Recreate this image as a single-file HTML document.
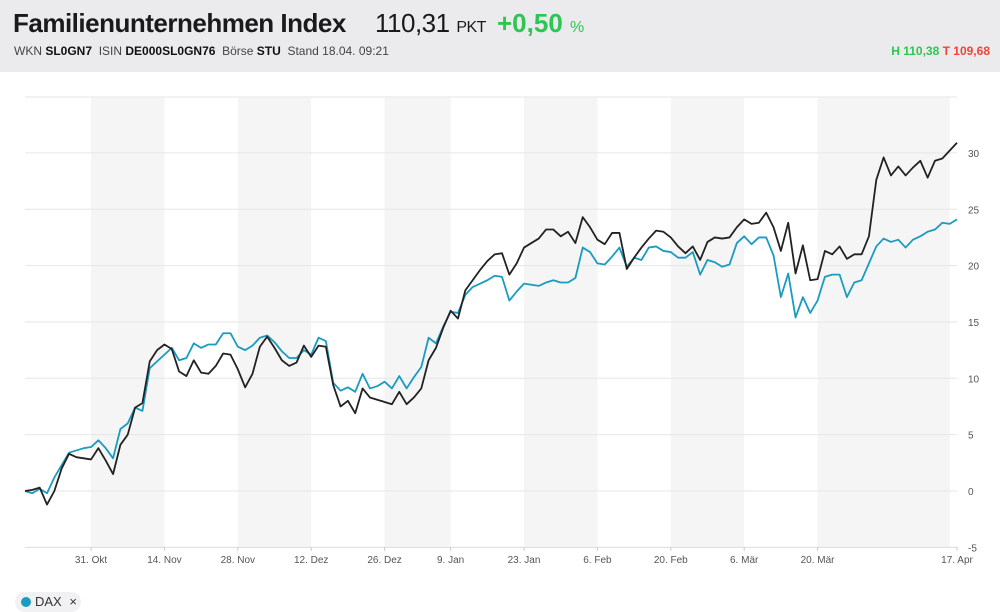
<!DOCTYPE html>
<html><head><meta charset="utf-8"><style>
body{margin:0;width:1000px;height:612px;overflow:hidden;background:#fff;font-family:"Liberation Sans",sans-serif;}
#hdr{position:absolute;left:0;top:0;width:1000px;height:72px;background:#ebebed;}
.t{position:absolute;white-space:nowrap;}
</style></head><body>
<div id="hdr">
  <div class="t" style="left:13px;top:8px;font-size:26px;font-weight:bold;color:#1a1a1a;letter-spacing:-0.5px">Familienunternehmen Index</div>
  <div class="t" style="left:375px;top:8px;font-size:26px;color:#1a1a1a;letter-spacing:-0.5px">110,31 <span style="font-size:16px">PKT</span></div>
  <div class="t" style="left:497px;top:8px;font-size:26px;font-weight:bold;color:#2ec552">+0,50 <span style="font-size:16px;font-weight:normal">%</span></div>
  <div class="t" style="left:14px;top:44px;font-size:12px;color:#444">WKN <b style="color:#111">SL0GN7</b>&nbsp; ISIN <b style="color:#111">DE000SL0GN76</b>&nbsp; Börse <b style="color:#111">STU</b>&nbsp; Stand 18.04. 09:21</div>
  <div class="t" style="right:10px;top:44px;font-size:12px;font-weight:bold"><span style="color:#2ec552">H 110,38</span> <span style="color:#f04438">T 109,68</span></div>
</div>
<svg id="chart" width="1000" height="612" style="position:absolute;left:0;top:0"></svg>
<div class="t" style="left:15px;top:592px;height:20px;width:66px;border-radius:10px;background:#f1f1f3;font-size:13px;color:#333;line-height:20px"><span style="display:inline-block;width:10px;height:10px;border-radius:5px;background:#1a9bc0;margin:0 4px 0 6px;vertical-align:-1px"></span>DAX <span style="margin-left:4px">×</span></div>
<script>
const dateLabels=["31. Okt","14. Nov","28. Nov","12. Dez","26. Dez","9. Jan","23. Jan","6. Feb","20. Feb","6. Mär","20. Mär","17. Apr"];
const dateIdx=[9,19,29,39,49,58,68,78,88,98,108,127];
const yTicks=[-5,0,5,10,15,20,25,30];
const indexSeries=[0,0.1,0.3,-1.2,0,2.0,3.3,3.0,2.9,2.8,3.8,2.7,1.5,4.1,5.0,7.4,7.8,11.5,12.5,13.0,12.6,10.6,10.2,11.6,10.5,10.4,11.1,12.2,12.1,10.8,9.2,10.4,12.8,13.7,12.7,11.6,11.1,11.4,12.9,11.9,12.9,12.8,9.4,7.5,8.0,6.9,9.1,8.3,8.1,7.9,7.7,8.8,7.7,8.3,9.1,11.6,12.7,14.5,16.0,15.3,17.8,18.7,19.6,20.4,21.0,21.1,19.2,20.2,21.6,22.0,22.4,23.2,23.2,22.6,23.0,22.0,24.3,23.4,22.3,21.9,22.9,22.9,19.7,20.7,21.6,22.4,23.1,23.0,22.5,21.7,21.1,21.7,20.5,22.1,22.5,22.4,22.5,23.4,24.1,23.7,23.8,24.7,23.4,21.3,23.8,19.3,21.8,18.7,18.8,21.3,21.0,21.7,20.6,21.0,21.0,22.6,27.6,29.6,28.0,28.8,28.0,28.7,29.3,27.8,29.3,29.5,30.2,30.9];
const daxSeries=[0,-0.2,0.2,-0.2,1.2,2.3,3.4,3.6,3.8,3.9,4.5,3.8,2.9,5.5,6.0,7.4,7.1,10.9,11.5,12.1,12.7,11.6,11.8,13.1,12.7,13.0,13.0,14.0,14.0,12.8,12.5,12.9,13.6,13.8,13.2,12.4,11.8,11.8,12.5,12.1,13.6,13.3,9.6,8.9,9.2,8.8,10.4,9.1,9.3,9.7,9.1,10.2,9.1,10.1,11.0,13.6,13.1,14.6,15.9,15.8,17.4,18.1,18.4,18.7,19.1,19.0,16.9,17.7,18.4,18.3,18.2,18.5,18.7,18.5,18.5,18.9,21.6,21.2,20.2,20.1,20.8,21.6,19.9,20.7,20.5,21.6,21.7,21.3,21.2,20.7,20.7,21.2,19.2,20.5,20.3,19.9,20.1,22.0,22.6,21.9,22.5,22.5,20.9,17.2,19.3,15.4,17.2,15.8,16.9,19.0,19.2,19.2,17.2,18.5,18.7,20.2,21.7,22.4,22.1,22.3,21.6,22.3,22.6,23.0,23.2,23.8,23.7,24.1];
const bandStart=[9,29,49,68,88,108];
const bandEnd=[19,39,58,78,98,126];
const NS="http://www.w3.org/2000/svg";
const svg=document.getElementById('chart');
const X0=25,X1=957,N=indexSeries.length;
const xs=i=>X0+i*(X1-X0)/(N-1);
const ys=v=>491-v*11.27;
function mk(t,a){const e=document.createElementNS(NS,t);for(const k in a)e.setAttribute(k,a[k]);svg.appendChild(e);return e;}
bandStart.forEach((s,k)=>{
  const r=mk('rect',{x:xs(s),y:97,width:xs(bandEnd[k])-xs(s),height:450,fill:'#f5f5f5'});
  
  
});
const topLine=mk('line',{x1:X0,x2:X1,y1:97,y2:97,stroke:'#e6e6e6'});


yTicks.forEach(v=>{
  const l=mk('line',{x1:X0,x2:X1,y1:ys(v),y2:ys(v),stroke:v===-5?'#dcdcdc':'#e6e6e6'});
  
  
  const t=mk('text',{x:968,y:ys(v)+4,'font-size':10,fill:'#555','font-family':'Liberation Sans, sans-serif'});
  t.textContent=v;
  
  
});
dateLabels.forEach((d,k)=>{
  const x=xs(dateIdx[k]);
  const tk=mk('line',{x1:x,x2:x,y1:547,y2:551,stroke:'#ccc'});
  
  
  const t=mk('text',{x:x,y:563,'font-size':10,fill:'#555','text-anchor':'middle','font-family':'Liberation Sans, sans-serif'});
  t.textContent=d;
  
  
});
function line(arr,col,name){
  const p=mk('polyline',{points:arr.map((v,i)=>xs(i)+','+ys(v)).join(' '),fill:'none',stroke:col,'stroke-width':1.8,'stroke-linejoin':'round'});
  
  
}
line(daxSeries,'#1a9bc0','dax-line');
line(indexSeries,'#222','index-line');
</script>
</body></html>
